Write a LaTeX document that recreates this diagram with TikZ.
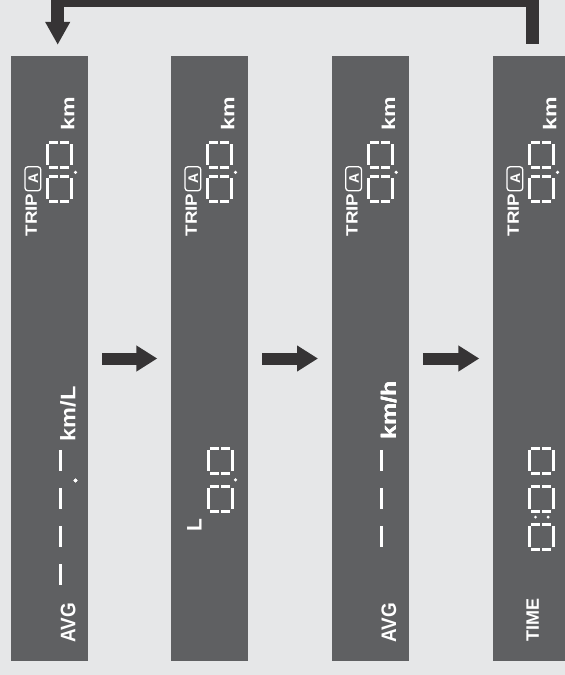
\documentclass[tikz,border=0pt]{standalone}
\usepackage{fontspec}
\setmainfont{Liberation Sans}
\usetikzlibrary{arrows.meta}
\definecolor{bggray}{HTML}{E6E7E8}
\definecolor{panelgray}{HTML}{5F6062}
\definecolor{arrowgray}{HTML}{363435}
\tikzset{
  panel/.style={fill=panelgray, minimum width=77pt, minimum height=605pt, inner sep=0pt},
  lcd/.style={white, line width=3pt},
  lcdtext/.style={text=white, font=\bfseries\fontsize{#1}{#1}\selectfont, rotate=90, anchor=base west, inner sep=0pt},
  nextarrow/.style={arrowgray, line width=12pt, -{Triangle[length=21pt,width=24.7pt]}, shorten <=14pt, shorten >=13.5pt},
  backarrow/.style={arrowgray, line width=12.5pt, -{Triangle[length=23pt,width=23.5pt]}},
}
% seven segment zero, turned on its side
\newcommand{\segzero}[2]{
  \draw[lcd] (#1+1.5,#2+3.5) -- (#1+1.5,#2+24.5);
  \draw[lcd] (#1+25.5,#2+3.5) -- (#1+25.5,#2+24.5);
  \draw[lcd] (#1+3.5,#2+1.5) -- (#1+12.5,#2+1.5);
  \draw[lcd] (#1+14.5,#2+1.5) -- (#1+23.5,#2+1.5);
  \draw[lcd] (#1+3.5,#2+26.5) -- (#1+12.5,#2+26.5);
  \draw[lcd] (#1+14.5,#2+26.5) -- (#1+23.5,#2+26.5);
}
\newcommand{\segdash}[2]{
  \draw[lcd] (#1+13.5,#2+3.5) -- (#1+13.5,#2+24.5);
}
\begin{document}
\begin{tikzpicture}[x=1pt,y=-1pt]
  \fill[bggray] (0,0) rectangle (565,675);
  \useasboundingbox (0,0) rectangle (565,675);
  \clip (0,0) rectangle (565,675);

  \node[panel] (p1) at (49.5,358.5) {};
  \node[panel] (p2) at (209.5,358.5) {};
  \node[panel] (p3) at (370.2,358.5) {};
  \node[panel] (p4) at (531.5,358.5) {};

  \draw[nextarrow] (p1.east) -- (p2.west);
  \draw[nextarrow] (p2.east) -- (p3.west);
  \draw[nextarrow] (p3.east) -- (p4.west);

  \coordinate (turn) at (57.7,0.5);
  \draw[backarrow] ([xshift=1pt,yshift=12pt]p4.north) |- (turn) -- ([xshift=8.2pt,yshift=11pt]p1.north);

  \foreach \p in {p1,p2,p3,p4} {
    \begin{scope}[shift={(\p.north west)}]
      \node[lcdtext=16.3, xscale=1.15] (\p trip) at (26,180.7) {TRIP};
      \draw[white, line width=1.3pt, rounded corners=3pt] (14.2,111) rectangle (30,135);
      \node[lcdtext=14, anchor=center] (\p tripa) at (22.6,123) {A};
      \segzero{35}{85}
      \segzero{35}{119}
      \fill[white] (64.7,116.5) circle (1.8);
      \node[lcdtext=18.5, xscale=1.25] (\p km) at (63.5,74.5) {km};
    \end{scope}
  }

  \begin{scope}[shift={(p1.north west)}]
    \foreach \y in {391,429,467,505}
      \segdash{36.5}{\y}
    \fill[white] (64.7,424.7) circle (1.8);
    \node[lcdtext=21, xscale=1.12] (p1unit) at (64.5,385.7) {km/L};
    \node[lcdtext=21, xscale=0.9] (p1avg) at (64.5,587) {AVG};
  \end{scope}

  \begin{scope}[shift={(p2.north west)}]
    \segzero{35.7}{391}
    \segzero{35.7}{429}
    \fill[white] (64.7,424) circle (1.8);
    \node[lcdtext=21] (p2unit) at (30.7,475.7) {L};
  \end{scope}

  \begin{scope}[shift={(p3.north west)}]
    \foreach \y in {391,429,467}
      \segdash{36}{\y}
    \node[lcdtext=21, xscale=1.19] (p3unit) at (64.5,384) {km/h};
    \node[lcdtext=21, xscale=0.9] (p3avg) at (64.5,587) {AVG};
  \end{scope}

  \begin{scope}[shift={(p4.north west)}]
    \segzero{34.7}{391}
    \segzero{34.7}{429}
    \segzero{34.7}{467}
    \fill[white] (42.7,461.3) circle (1.6);
    \fill[white] (55.3,461.3) circle (1.6);
    \node[lcdtext=18] (p4time) at (46,586) {TIME};
  \end{scope}
\end{tikzpicture}
\end{document}
